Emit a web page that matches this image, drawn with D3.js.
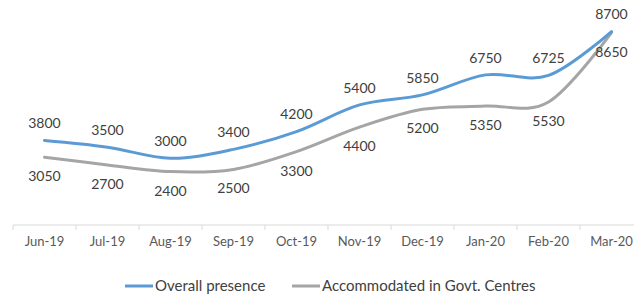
<!DOCTYPE html>
<html>
<head>
<meta charset="utf-8">
<script src="https://cdnjs.cloudflare.com/ajax/libs/d3/7.8.5/d3.min.js"></script>
<style>
  body { margin: 0; background: #fff; }
  svg { display: block; font-family: Lato, "Open Sans", sans-serif; }
</style>
</head>
<body>
<svg id="chart" width="634" height="298"></svg>
<script>
const months = ['Jun-19', 'Jul-19', 'Aug-19', 'Sep-19', 'Oct-19', 'Nov-19', 'Dec-19', 'Jan-20', 'Feb-20', 'Mar-20'];
const overall = [3800, 3500, 3000, 3400, 4200, 5400, 5850, 6750, 6725, 8700];
const accommodated = [3050, 2700, 2400, 2500, 3300, 4400, 5200, 5350, 5530, 8650];

const svg = d3.select('#chart');
const axisY = 225;

const x = d3.scaleBand()
  .domain(months)
  .range([13, 643]);

const y = d3.scaleLinear()
  .domain([0, 10000])
  .range([axisY, 2.6]);

// x axis
svg.append('line')
  .attr('x1', 13).attr('x2', 634)
  .attr('y1', axisY).attr('y2', axisY)
  .attr('stroke', '#d9d9d9')
  .attr('stroke-width', 1);

svg.selectAll('.tick')
  .data(months)
  .enter()
  .append('line')
  .attr('x1', d => x(d)).attr('x2', d => x(d))
  .attr('y1', axisY).attr('y2', axisY + 5)
  .attr('stroke', '#d9d9d9');

svg.selectAll('.mlabel')
  .data(months)
  .enter()
  .append('text')
  .attr('x', d => x(d) + x.bandwidth() / 2)
  .attr('y', axisY + 21)
  .attr('text-anchor', 'middle')
  .attr('font-size', '13px')
  .attr('fill', '#595959')
  .text(d => d);

const line = d3.line()
  .x((d, i) => x(months[i]) + x.bandwidth() / 2)
  .y(d => y(d))
  .curve(d3.curveCatmullRom.alpha(0));

const series = [
  { name: 'Overall presence', values: overall, color: '#5b9bd5', dy: -17 },
  { name: 'Accommodated in Govt. Centres', values: accommodated, color: '#a5a5a5', dy: 19 }
];

// draw gray first so blue sits on top
series.slice().reverse().forEach(s => {
  svg.append('path')
    .datum(s.values)
    .attr('fill', 'none')
    .attr('stroke', s.color)
    .attr('stroke-width', 3)
    .attr('stroke-linecap', 'round')
    .attr('d', line);
});

series.forEach(s => {
  svg.selectAll(null)
    .data(s.values)
    .enter()
    .append('text')
    .attr('x', (d, i) => x(months[i]) + x.bandwidth() / 2)
    .attr('y', d => y(d) + s.dy)
    .attr('dy', '0.35em')
    .attr('text-anchor', 'middle')
    .attr('font-size', '14px')
    .attr('fill', '#404040')
    .text(d => d);
});

// legend
const legend = [
  { x: 125, color: '#5b9bd5', name: 'Overall presence' },
  { x: 292, color: '#a5a5a5', name: 'Accommodated in Govt. Centres' }
];
legend.forEach(l => {
  svg.append('line')
    .attr('x1', l.x).attr('x2', l.x + 28)
    .attr('y1', 286).attr('y2', 286)
    .attr('stroke', l.color)
    .attr('stroke-width', 3);
  svg.append('text')
    .attr('x', l.x + 30)
    .attr('y', 286)
    .attr('dy', '0.35em')
    .attr('font-size', '15px')
    .attr('fill', '#404040')
    .text(l.name);
});
</script>
</body>
</html>
